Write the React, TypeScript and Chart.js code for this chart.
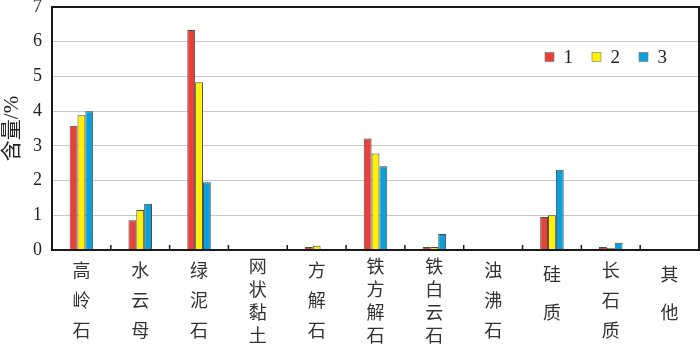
import React, { useEffect, useRef } from "react";
import { Chart, registerables } from "chart.js";

Chart.register(...registerables);

const categories = ["高岭石", "水云母", "绿泥石", "网状黏土", "方解石", "铁方解石", "铁白云石", "浊沸石", "硅质", "长石质", "其他"];
const seriesNames = ["1", "2", "3"];
const series1 = [3.58, 0.86, 6.34, 0.02, 0.09, 3.21, 0.09, 0, 0.95, 0.09, 0];
const series2 = [3.88, 1.15, 4.83, 0.02, 0.12, 2.78, 0.09, 0, 1.0, 0.06, 0];
const series3 = [4.0, 1.33, 1.95, 0.02, 0, 2.41, 0.46, 0, 2.31, 0.21, 0];
const seriesColors = ["#e8403a", "#fff200", "#0aa0dc"];
const yMin = 0;
const yMax = 7;
const yStep = 1;
const yTitle = "含量/%";

const SERIF = "'Liberation Serif', 'Times New Roman', 'Noto Sans CJK SC', serif";
const labelLineHeights: Record<number, number> = { 2: 38, 3: 30, 4: 23 };

const framePlugin = {
  id: "frame",
  afterDatasetsDraw(chart: any) {
    const { ctx, chartArea: a, scales } = chart;
    const x = scales.x;
    ctx.save();
    ctx.strokeStyle = "#1a1a1a";
    ctx.lineWidth = 1.5;
    const n = chart.data.labels.length;
    for (let i = 1; i < n; i++) {
      const px = (x.getPixelForValue(i - 1) + x.getPixelForValue(i)) / 2;
      ctx.beginPath();
      ctx.moveTo(px, a.bottom);
      ctx.lineTo(px, a.bottom - 5);
      ctx.stroke();
    }
    ctx.lineWidth = 2;
    ctx.strokeRect(a.left, a.top, a.right - a.left, a.bottom - a.top);

    // legend inside plot, top right
    ctx.font = "19px " + SERIF;
    ctx.textBaseline = "middle";
    ctx.textAlign = "left";
    let cx = a.right - 154;
    const cy = a.top + 50;
    chart.data.datasets.forEach((ds: any) => {
      ctx.fillStyle = ds.backgroundColor;
      ctx.fillRect(cx, cy - 4.5, 9, 9);
      ctx.strokeStyle = "#777";
      ctx.lineWidth = 0.6;
      ctx.strokeRect(cx, cy - 4.5, 9, 9);
      ctx.fillStyle = "#222";
      const tx = cx + 9 + 9.5;
      ctx.fillText(ds.label, tx, cy + 1);
      cx = tx + ctx.measureText(ds.label).width + 19;
    });
    ctx.restore();
  },
};

export default function App() {
  const ref = useRef<HTMLCanvasElement>(null);
  useEffect(() => {
    document.body.style.margin = "0";
    const canvas = ref.current;
    if (!canvas) return;
    const allSeries = [series1, series2, series3];
    const chart = new Chart(canvas, {
      type: "bar",
      data: {
        labels: categories.map((c) => c.split("")),
        datasets: allSeries.map((s, i) => ({
          label: seriesNames[i],
          data: s,
          backgroundColor: seriesColors[i],
          borderColor: "#4a4a4a",
          borderWidth: 1,
          borderSkipped: "start" as const,
          categoryPercentage: 0.4,
          barPercentage: 1,
        })),
      },
      options: {
        animation: false,
        responsive: false,
        maintainAspectRatio: false,
        layout: { padding: { top: 7, right: 1, left: 0, bottom: 0 } },
        plugins: {
          legend: { display: false },
          tooltip: { enabled: false },
        },
        scales: {
          x: {
            grid: { display: false, drawTicks: false },
            border: { display: false },
            ticks: {
              autoSkip: false,
              maxRotation: 0,
              minRotation: 0,
              padding: 7,
              color: "#333",
              font: (ctx: any) => {
                const len = categories[ctx.index]?.length ?? 3;
                const lh = labelLineHeights[len] ?? 30;
                return { family: SERIF, size: 18, lineHeight: lh / 18 };
              },
            },
            afterFit: (scale: any) => {
              scale.height = 96;
              scale.paddingLeft = 0;
              scale.paddingRight = 0;
            },
          },
          y: {
            min: yMin,
            max: yMax,
            grid: { color: "#c8c8c8", lineWidth: 1, drawTicks: false },
            border: { display: false },
            ticks: {
              stepSize: yStep,
              padding: 10,
              color: "#222",
              font: { family: SERIF, size: 18 },
            },
            title: {
              display: true,
              text: yTitle,
              color: "#222",
              font: { family: SERIF, size: 21 },
              padding: 0,
            },
            afterFit: (scale: any) => {
              scale.width = 52;
              scale.paddingTop = 0;
              scale.paddingBottom = 0;
            },
          },
        },
      },
      plugins: [framePlugin],
    });
    return () => chart.destroy();
  }, []);
  return (
    <div style={{ width: 700, height: 346, background: "#fff" }}>
      <canvas ref={ref} width={700} height={346} style={{ display: "block" }} />
    </div>
  );
}
